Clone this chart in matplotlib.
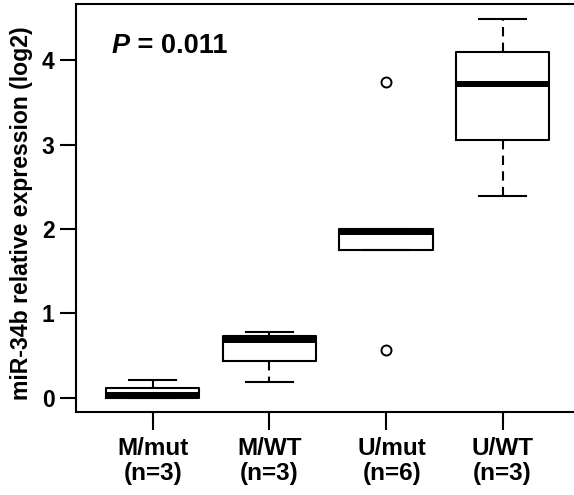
import matplotlib
matplotlib.use("Agg")
import matplotlib.pyplot as plt
import matplotlib.transforms as mtransforms

plt.rcParams['font.family'] = ['Liberation Sans', 'DejaVu Sans']
plt.rcParams['font.weight'] = 'bold'

# Box statistics (log2 relative expression)
groups = ['M/mut\n(n=3)', 'M/WT\n(n=3)', 'U/mut\n(n=6)', 'U/WT\n(n=3)']
whis_low = [0.00, 0.184, 1.746, 2.39]
q1 = [0.00, 0.437, 1.746, 3.055]
medians = [0.03, 0.68, 1.96, 3.72]
q3 = [0.113, 0.73, 2.002, 4.102]
whis_high = [0.21, 0.773, 2.002, 4.486]
outliers = [[], [], [0.567, 3.743], []]
yticks = [0, 1, 2, 3, 4]
p_label = '= 0.011'

stats = []
for i, name in enumerate(groups):
    stats.append(dict(label=name, whislo=whis_low[i], q1=q1[i], med=medians[i],
                      q3=q3[i], whishi=whis_high[i], fliers=outliers[i]))

fig = plt.figure(figsize=(5.74, 4.95), dpi=100)
ax = fig.add_axes([75.7 / 574, 1 - 412 / 495, 503.8 / 574, 408 / 495])

lw = 1.5
ax.bxp(stats, positions=[1, 2, 3, 4], widths=0.8, capwidths=0.4,
       boxprops=dict(color='black', linewidth=lw),
       whiskerprops=dict(color='black', linewidth=lw, linestyle=(0, (4.5, 3))),
       capprops=dict(color='black', linewidth=lw),
       medianprops=dict(color='black', linewidth=4.3, solid_capstyle='butt'),
       flierprops=dict(marker='o', markerfacecolor='none', markeredgecolor='black',
                       markersize=7.2, markeredgewidth=1.4))

ax.set_xlim(0.34, 4.66)
ax.set_ylim(-0.172, 4.668)
ax.set_yticks(yticks)
ax.set_yticklabels([str(v) for v in yticks], fontsize=16.5, fontweight='bold')
ax.set_xticks([1, 2, 3, 4])
ax.set_xticklabels(groups, fontsize=17.5, fontweight='bold', linespacing=1.12)
ax.tick_params(axis='y', length=11.3, width=lw, pad=4)
ax.tick_params(axis='x', length=13, width=lw, pad=5)
for s in ax.spines.values():
    s.set_linewidth(lw)

# U/mut label sits a little to the right of its tick in the reference
lab = ax.get_xticklabels()[2]
lab.set_transform(lab.get_transform() +
                  mtransforms.ScaledTranslation(6 / 100, 0, fig.dpi_scale_trans))

fig.text(22 / 574, 1 - 213 / 495, 'miR-34b relative expression (log2)',
         rotation=90, ha='center', va='center', fontsize=16.6, fontweight='bold')

t1 = ax.text(36 / 503.8, (412 - 53.3) / 408, 'P', transform=ax.transAxes,
             fontsize=19.5, fontweight='bold', fontstyle='italic', va='baseline')
ax.annotate(' ' + p_label, xy=(1, 0), xycoords=t1, va='bottom', ha='left',
            fontsize=19.5, fontweight='bold')

fig.savefig('out.png', dpi=100)
